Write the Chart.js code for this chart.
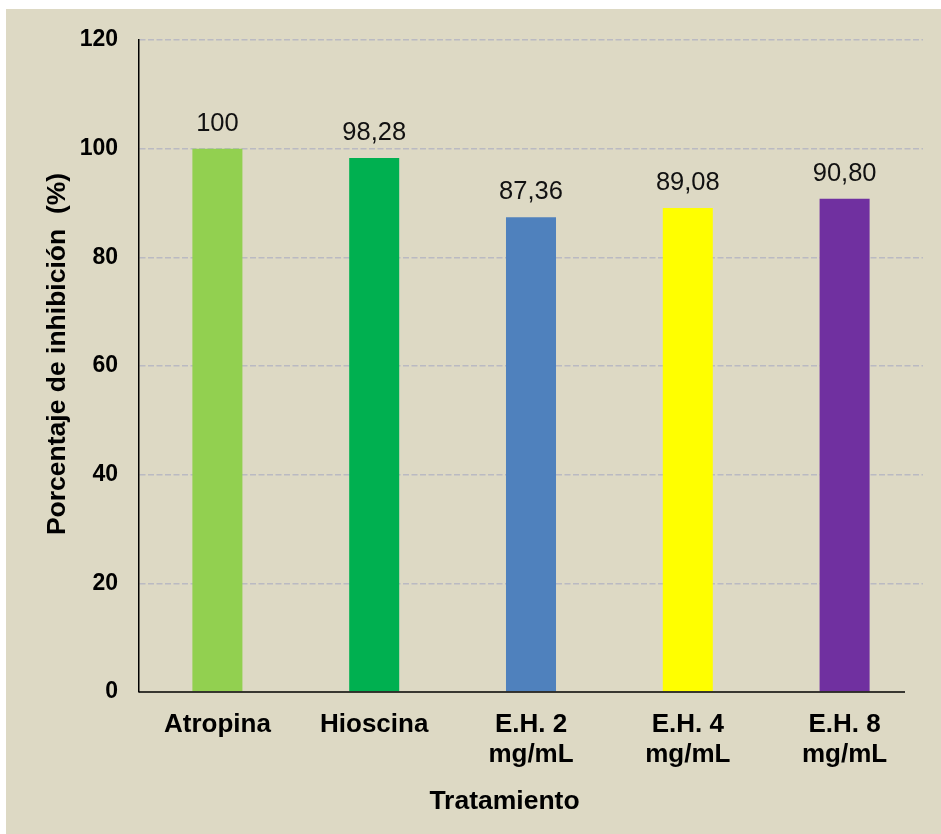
<!DOCTYPE html>
<html>
<head>
<meta charset="utf-8">
<script src="https://cdn.jsdelivr.net/npm/chart.js@4"></script>
<style>
  html, body { margin: 0; padding: 0; background: #ffffff; }
  #frame {
    position: absolute; left: 6px; top: 9px;
    width: 935px; height: 825px;
    background: #ddd9c4;
  }
</style>
</head>
<body>
<div id="frame"><canvas id="chart"></canvas></div>
<script>
// Treatments and their inhibition percentages
const categories = [
  'Atropina',
  'Hioscina',
  ['E.H. 2', 'mg/mL'],
  ['E.H. 4', 'mg/mL'],
  ['E.H. 8', 'mg/mL']
];
const inhibition = [100, 98.28, 87.36, 89.08, 90.80];
const barColors = ['#92d050', '#00b050', '#4f81bd', '#ffff00', '#7030a0'];
const yTicks = [0, 20, 40, 60, 80, 100, 120];
const xTitle = 'Tratamiento';
const yTitle = 'Porcentaje de inhibición  (%)';

const FONT = '"Liberation Sans", Arial, sans-serif';

// Spanish decimal formatting: 98.28 -> "98,28", 100 -> "100"
function fmt(v) {
  return Number.isInteger(v) ? String(v) : v.toFixed(2).replace('.', ',');
}

// Value labels above each bar
const valueLabels = {
  id: 'valueLabels',
  afterDatasetsDraw(chart) {
    const ctx = chart.ctx;
    const meta = chart.getDatasetMeta(0);
    ctx.save();
    ctx.font = '25.5px ' + FONT;
    ctx.fillStyle = '#111111';
    ctx.textAlign = 'center';
    ctx.textBaseline = 'alphabetic';
    meta.data.forEach((bar, i) => {
      ctx.fillText(fmt(inhibition[i]), bar.x, bar.y - 18);
    });
    ctx.restore();
  }
};

// Category axis line (stops a little short of the plot's right edge) and axis titles
const axisDecor = {
  id: 'axisDecor',
  afterDraw(chart) {
    const ctx = chart.ctx;
    const area = chart.chartArea;
    ctx.save();
    ctx.strokeStyle = '#000000';
    ctx.lineWidth = 1.5;
    ctx.beginPath();
    ctx.moveTo(area.left, area.bottom);
    ctx.lineTo(area.right - 18, area.bottom);
    ctx.stroke();

    ctx.fillStyle = '#000000';
    ctx.font = 'bold 26.5px ' + FONT;
    ctx.textAlign = 'center';
    ctx.textBaseline = 'alphabetic';
    ctx.fillText(xTitle, 498.5, 800);
    ctx.translate(59, 345);
    ctx.rotate(-Math.PI / 2);
    ctx.fillText(yTitle, 0, 0);
    ctx.restore();
  }
};

new Chart(document.getElementById('chart'), {
  type: 'bar',
  data: {
    labels: categories,
    datasets: [{
      data: inhibition,
      backgroundColor: barColors,
      borderWidth: 0,
      categoryPercentage: 1,
      barPercentage: 0.319
    }]
  },
  options: {
    responsive: true,
    maintainAspectRatio: false,
    animation: false,
    layout: { padding: { top: 31, right: 18, left: 0, bottom: 0 } },
    plugins: {
      legend: { display: false },
      tooltip: { enabled: false }
    },
    scales: {
      x: {
        grid: { display: false, drawTicks: false },
        border: { display: false },
        ticks: {
          color: '#000000',
          padding: 18,
          maxRotation: 0,
          autoSkip: false,
          font: { family: FONT, size: 26, weight: 'bold', lineHeight: 1.15 }
        },
        afterFit(scale) { scale.height = 142; }
      },
      y: {
        min: 0,
        max: 120,
        afterBuildTicks(scale) { scale.ticks = yTicks.map(v => ({ value: v })); },
        grid: {
          drawTicks: true,
          tickLength: 18,
          tickColor: 'rgba(0,0,0,0)',
          lineWidth: 1.5,
          color: (c) => (c.tick && c.tick.value === 0) ? 'rgba(0,0,0,0)' : '#babac2'
        },
        border: { display: true, color: '#000000', width: 1.5, dash: [6, 2.5] },
        ticks: {
          color: '#000000',
          padding: 3,
          font: { family: FONT, size: 23, weight: 'bold' }
        },
        afterFit(scale) { scale.width = 133; }
      }
    }
  },
  plugins: [valueLabels, axisDecor]
});
</script>
</body>
</html>
